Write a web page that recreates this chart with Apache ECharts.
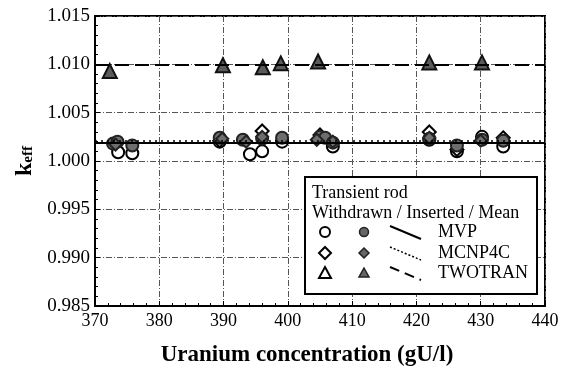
<!DOCTYPE html>
<html>
<head>
<meta charset="utf-8">
<script src="https://cdn.jsdelivr.net/npm/echarts@6/dist/echarts.min.js"></script>
<style>
  html, body { margin: 0; padding: 0; background: #fff; }
  #chart { width: 574px; height: 372px; }
</style>
</head>
<body>
<div id="chart"></div>
<script>
// values: [uranium concentration gU/l, keff]
var mvpWithdrawn = [[373.6, 1.0009], [375.8, 1.0008], [389.4, 1.0020], [394.1, 1.0007], [396.0, 1.0010],
  [399.1, 1.0020], [407.0, 1.0015], [422.0, 1.0022], [426.3, 1.0010], [430.2, 1.0025], [433.5, 1.0015]];
var mvpInserted = [[372.8, 1.0018], [373.5, 1.0020], [375.8, 1.0016], [389.4, 1.0024], [393.0, 1.0022],
  [396.0, 1.0023], [399.1, 1.0024], [405.0, 1.0025], [405.8, 1.0024], [407.0, 1.0019], [422.0, 1.0023],
  [426.3, 1.0016], [430.2, 1.0022], [433.5, 1.0021]];
var mcnpWithdrawn = [[389.4, 1.0021], [396.0, 1.0031], [405.0, 1.0027], [422.0, 1.0030], [426.3, 1.0012], [433.5, 1.0024]];
var mcnpInserted = [[373.2, 1.0017], [389.8, 1.0023], [393.5, 1.0020], [396.0, 1.0025], [404.5, 1.0022],
  [407.0, 1.0020], [422.0, 1.0024], [430.0, 1.0021]];
var twotranInserted = [[372.3, 1.0093], [389.9, 1.0099], [396.1, 1.0097], [398.9, 1.0101], [404.7, 1.0103],
  [422.0, 1.0102], [430.2, 1.0102]];
// mean values (horizontal lines)
var meanMVP = 1.0019;
var meanMCNP = 1.0021;
var meanTWOTRAN = 1.0100;

var serif = '"Liberation Serif", "DejaVu Serif", serif';
var gridLine = { show: true, lineStyle: { color: '#555', width: 1, type: [6, 2, 1, 2] } };

var myChart = echarts.init(document.getElementById('chart'));

function pts(name, data, symbol, size, fill, border) {
  return {
    name: name, type: 'scatter', data: data, symbol: symbol, symbolSize: size,
    itemStyle: { color: fill, borderColor: border, borderWidth: 2, opacity: 1 },
    z: 3
  };
}

// legend drawn by hand (box + symbols + slanted line samples)
var lx = 305, ly = 177;
var rowY = [232, 253, 273];
var lfont = '18px ' + serif;
var legendGraphics = [
  { type: 'rect', shape: { x: lx, y: ly, width: 232, height: 117 },
    style: { fill: '#fff', stroke: '#000', lineWidth: 2 }, z: 10 },
  { type: 'text', x: 312, y: 193, style: { text: 'Transient rod', font: lfont, fill: '#000', verticalAlign: 'middle' }, z: 11 },
  { type: 'text', x: 312, y: 213, style: { text: 'Withdrawn / Inserted / Mean', font: lfont, fill: '#000', verticalAlign: 'middle' }, z: 11 },
  { type: 'circle', shape: { cx: 325, cy: rowY[0], r: 5 }, style: { fill: '#fff', stroke: '#000', lineWidth: 2 }, z: 11 },
  { type: 'circle', shape: { cx: 364, cy: rowY[0], r: 4.5 }, style: { fill: '#666', stroke: '#222', lineWidth: 1.5 }, z: 11 },
  { type: 'polygon', shape: { points: [[325, rowY[1] - 6], [331, rowY[1]], [325, rowY[1] + 6], [319, rowY[1]]] }, style: { fill: '#fff', stroke: '#000', lineWidth: 2 }, z: 11 },
  { type: 'polygon', shape: { points: [[364, rowY[1] - 5], [369, rowY[1]], [364, rowY[1] + 5], [359, rowY[1]]] }, style: { fill: '#666', stroke: '#222', lineWidth: 1.5 }, z: 11 },
  { type: 'polygon', shape: { points: [[325, rowY[2] - 6], [331, rowY[2] + 5], [319, rowY[2] + 5]] }, style: { fill: '#fff', stroke: '#000', lineWidth: 2 }, z: 11 },
  { type: 'polygon', shape: { points: [[364, rowY[2] - 5], [369, rowY[2] + 4], [359, rowY[2] + 4]] }, style: { fill: '#666', stroke: '#222', lineWidth: 1.5 }, z: 11 },
  { type: 'line', shape: { x1: 390, y1: rowY[0] - 6, x2: 421, y2: rowY[0] + 7 }, style: { stroke: '#000', lineWidth: 2 }, z: 11 },
  { type: 'line', shape: { x1: 390, y1: rowY[1] - 6, x2: 421, y2: rowY[1] + 7 }, style: { stroke: '#000', lineWidth: 1.5, lineDash: [2, 2] }, z: 11 },
  { type: 'line', shape: { x1: 390, y1: rowY[2] - 6, x2: 421, y2: rowY[2] + 7 }, style: { stroke: '#000', lineWidth: 2, lineDash: [10, 6] }, z: 11 }
];
var legendNames = ['MVP', 'MCNP4C', 'TWOTRAN'];
legendNames.forEach(function (n, i) {
  legendGraphics.push({ type: 'text', x: 438, y: rowY[i], z: 11,
    style: { text: n, font: lfont, fill: '#000', verticalAlign: 'middle' } });
});

var option = {
  backgroundColor: '#fff',
  animation: false,
  grid: { left: 95, right: 29, top: 16, bottom: 66, show: true, borderColor: '#000', borderWidth: 2 },
  xAxis: {
    type: 'value', min: 370, max: 440, interval: 10,
    name: 'Uranium concentration (gU/l)', nameLocation: 'middle', nameGap: 38,
    nameTextStyle: { fontFamily: serif, fontWeight: 'bold', fontSize: 23, color: '#000', padding: [0, 26, 0, 0] },
    axisLine: { show: true, onZero: false, lineStyle: { color: '#000', width: 2 } },
    axisTick: { show: true, inside: true, length: 5, lineStyle: { color: '#000' } },
    minorTick: { show: true, splitNumber: 5, length: 3, lineStyle: { color: '#000' } },
    axisLabel: { fontFamily: serif, fontSize: 18, color: '#000', margin: 6 },
    splitLine: gridLine
  },
  yAxis: {
    type: 'value', min: 0.985, max: 1.015, interval: 0.005,
    name: '{k|k}{s|eff}', nameLocation: 'middle', nameGap: 56, nameRotate: 90,
    nameTextStyle: {
      rich: {
        k: { fontFamily: serif, fontWeight: 'bold', fontSize: 24, color: '#000' },
        s: { fontFamily: serif, fontWeight: 'bold', fontSize: 15, color: '#000', padding: [8, 0, 0, 0] }
      }
    },
    axisLine: { show: true, onZero: false, lineStyle: { color: '#000', width: 2 } },
    axisTick: { show: true, inside: true, length: 5, lineStyle: { color: '#000' } },
    minorTick: { show: true, splitNumber: 5, length: 3, lineStyle: { color: '#000' } },
    axisLabel: { fontFamily: serif, fontSize: 19, color: '#000', margin: 5,
      formatter: function (v) { return v.toFixed(3); } },
    splitLine: gridLine
  },
  series: [
    pts('MVP withdrawn', mvpWithdrawn, 'circle', 12, '#fff', '#000'),
    pts('MCNP4C withdrawn', mcnpWithdrawn, 'diamond', 13, '#fff', '#000'),
    pts('MVP inserted', mvpInserted, 'circle', 12, '#6e6e6e', '#222'),
    pts('MCNP4C inserted', mcnpInserted, 'diamond', 12, '#6e6e6e', '#222'),
    pts('TWOTRAN inserted', twotranInserted, 'triangle', 14, '#5a5a5a', '#111'),
    {
      name: 'Mean', type: 'line', data: [], z: 2,
      markLine: {
        silent: true, symbol: 'none', precision: 5, label: { show: false },
        data: [
          { yAxis: meanMVP, lineStyle: { color: '#000', width: 2, type: 'solid' } },
          { yAxis: meanMCNP, lineStyle: { color: '#000', width: 1.5, type: [2, 4] } },
          { yAxis: meanTWOTRAN, lineStyle: { color: '#000', width: 2, type: [14, 6] } }
        ]
      }
    }
  ],
  graphic: legendGraphics
};

myChart.setOption(option, true);
</script>
</body>
</html>
